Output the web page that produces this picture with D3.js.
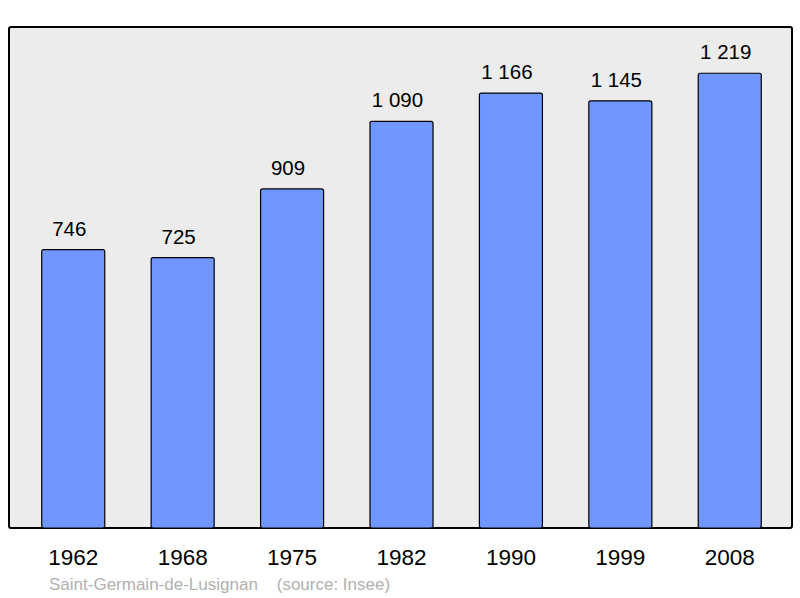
<!DOCTYPE html>
<html><head><meta charset="utf-8">
<script src="https://cdn.jsdelivr.net/npm/d3@7"></script>
<style>body{margin:0;background:#fff}svg{display:block}text{font-family:"Liberation Sans",Arial,sans-serif}</style>
</head><body>
<svg id="c" width="800" height="598"></svg>
<script>
const years = ["1962","1968","1975","1982","1990","1999","2008"];
const population = [746,725,909,1090,1166,1145,1219];
const valueLabels = ["746","725","909","1 090","1 166","1 145","1 219"];
const caption = "Saint-Germain-de-Lusignan    (source: Insee)";

const svg = d3.select("#c");
const frame = {x0:9, y0:27, x1:792, y1:528};
svg.append("rect").attr("x",frame.x0).attr("y",frame.y0)
  .attr("width",frame.x1-frame.x0).attr("height",frame.y1-frame.y0)
  .attr("rx",2).attr("fill","#ececec").attr("stroke","#000").attr("stroke-width",2);

const x = d3.scaleBand().domain(years).range([10, 793]).paddingInner(0.424).paddingOuter(0.29);
const y = d3.scaleLinear().domain([0, 1343]).range([frame.y1, frame.y0]);

const g = svg.append("g");
g.selectAll("rect.bar").data(population).join("rect").attr("class","bar")
  .attr("x",(d,i)=>x(years[i])).attr("width",x.bandwidth())
  .attr("y",d=>y(d)).attr("height",d=>y(0)-y(d))
  .attr("rx",2).attr("fill","#7097ff").attr("stroke","#000").attr("stroke-width",1.2);

g.selectAll("text.val").data(population).join("text").attr("class","val")
  .attr("x",(d,i)=>x(years[i])+x.bandwidth()/2-4).attr("y",d=>y(d)-14)
  .attr("text-anchor","middle").attr("font-size",20.5).attr("fill","#000")
  .text((d,i)=>valueLabels[i]);

const axis = d3.axisBottom(x).tickSize(0).tickPadding(0);
const ax = svg.append("g").attr("transform",`translate(0,${frame.y1})`).call(axis);
ax.select(".domain").remove();
ax.selectAll("text").attr("font-size",22.5).attr("fill","#000").attr("dy",0).attr("y",37)
  .style("font-family",'"Liberation Sans",Arial,sans-serif');

svg.append("text").attr("x",49).attr("y",590).attr("font-size",17).attr("fill","#b0b0b0")
  .attr("xml:space","preserve").style("white-space","pre").text(caption);
</script>
</body></html>
